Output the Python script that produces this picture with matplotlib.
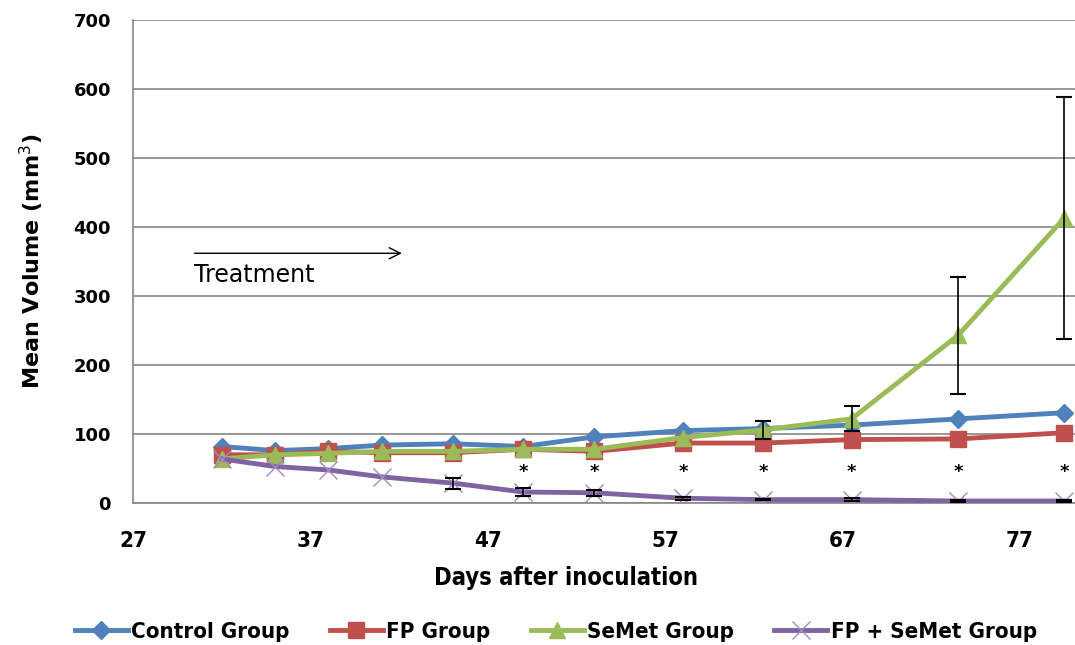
import matplotlib
matplotlib.use("Agg")
import matplotlib.pyplot as plt
from matplotlib.lines import Line2D

days = [32, 35, 38, 41, 45, 49, 53, 58, 62.5, 67.5, 73.5, 79.5]
control = [82, 76, 79, 84, 86, 82, 96, 105, 108, 113, 122, 131]
fp = [70, 70, 75, 73, 73, 78, 75, 87, 87, 92, 93, 102]
semet = [64, 70, 72, 75, 75, 78, 78, 95, 106, 122, 243, 413]
semet_err = [0, 0, 0, 0, 0, 0, 0, 0, 13, 18, 85, 175]
combo = [64, 53, 48, 38, 29, 16, 15, 7, 5, 5, 3, 3]
combo_err = [0, 0, 0, 0, 8, 6, 4, 2, 1, 2, 1, 1]
star_days = [49, 53, 58, 62.5, 67.5, 73.5, 79.5]
star_y = 45

cond = dict(family='DejaVu Sans', stretch='condensed', weight='bold')

fig = plt.figure(figsize=(10.75, 6.45), dpi=100)
ax = fig.add_axes([0.124, 0.22, 0.876, 0.749])

colors = ['#4F81BD', '#C0504D', '#9BBB59', '#8064A2']
ax.plot(days, control, color=colors[0], lw=3.5, marker='D', ms=9, zorder=3)
ax.plot(days, fp, color=colors[1], lw=3.5, marker='s', ms=11, zorder=4)
ax.plot(days, semet, color=colors[2], lw=3.5, marker='^', ms=12, zorder=5)
ax.plot(days, combo, color=colors[3], lw=3.5, marker='x', ms=13, mew=1.0,
        mec='#A18BC4', zorder=6)

for vals, errs in [(semet, semet_err), (combo, combo_err)]:
    xs = [d for d, e in zip(days, errs) if e > 0]
    ys = [v for v, e in zip(vals, errs) if e > 0]
    es = [e for e in errs if e > 0]
    ax.errorbar(xs, ys, yerr=es, fmt='none', ecolor='black', elinewidth=1.2,
                capsize=6, capthick=1.5, zorder=7)

for d in star_days:
    ax.text(d, star_y, '*', ha='center', va='center', fontsize=13, fontweight='bold')

ax.annotate('', xy=(42.3, 362), xytext=(30.3, 362),
            arrowprops=dict(arrowstyle='->', color='black', lw=1, mutation_scale=20))
ax.text(30.4, 331, 'Treatment', fontsize=17, ha='left', va='center')

ax.set_xlim(27, 80.1)
ax.set_ylim(0, 700)
ax.set_xticks([27, 37, 47, 57, 67, 77])
ax.set_yticks(range(0, 701, 100))
ax.grid(axis='y', color='#868686', lw=1.2)
ax.set_axisbelow(True)
for s in ['left', 'bottom']:
    ax.spines[s].set_color('#868686')
    ax.spines[s].set_linewidth(1.2)
ax.spines['right'].set_visible(False)
ax.spines['top'].set_visible(False)
ax.tick_params(axis='y', length=0, pad=16, labelsize=13)
ax.tick_params(axis='x', length=0, pad=20)
for t in ax.get_yticklabels():
    t.set_fontweight('bold')
for t in ax.get_xticklabels():
    t.set_fontproperties(dict(cond, size=16))

ax.set_ylabel('Mean Volume (mm$^3$)', fontsize=16, fontweight='bold', labelpad=20)
ax.set_xlabel('Days after inoculation', fontdict=dict(cond, size=17), labelpad=12)
ax.xaxis.set_label_coords(0.46, -0.13)

handles = [
    Line2D([], [], color=colors[0], lw=3.5, marker='D', ms=9),
    Line2D([], [], color=colors[1], lw=3.5, marker='s', ms=11),
    Line2D([], [], color=colors[2], lw=3.5, marker='^', ms=12),
    Line2D([], [], color=colors[3], lw=3.5, marker='x', ms=13, mew=1.0, mec='#A18BC4'),
]
labels = ['Control Group', 'FP Group', 'SeMet Group', 'FP + SeMet Group']
fig.legend(handles, labels, loc='center', bbox_to_anchor=(0.517, 0.02), ncol=4, frameon=False,
           prop=dict(cond, size=16), columnspacing=1.8,
           handlelength=2.4, handletextpad=0.15)

fig.savefig('out.png', dpi=100)
